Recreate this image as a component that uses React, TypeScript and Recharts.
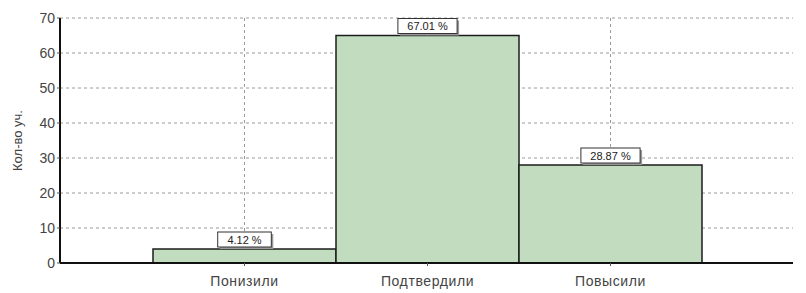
import { Bar, BarChart, CartesianGrid, LabelList, ReferenceLine, XAxis, YAxis } from "recharts";

const categories = ["Понизили", "Подтвердили", "Повысили"];
const counts = [4, 65, 28];
const percentLabels = ["4.12 %", "67.01 %", "28.87 %"];
const yTicks = [0, 10, 20, 30, 40, 50, 60, 70];
const yMax = 70;

const data = categories.map((name, i) => ({ name, value: counts[i], pct: percentLabels[i] }));

const font = "Liberation Sans, Arial";

function PctLabel(props: any) {
  const { x, y, width, index } = props;
  const text = percentLabels[index];
  const w = 20 + text.length * 5.6;
  const h = 15;
  const cx = x + width / 2;
  const top = y - h - 2;
  return (
    <g>
      <rect x={cx - w / 2 + 2} y={top + 2} width={w} height={h} fill="#9a9a9a" />
      <rect x={cx - w / 2} y={top} width={w} height={h} fill="#fff" stroke="#333" strokeWidth={1} />
      <text x={cx} y={top + h / 2 + 4} textAnchor="middle" fontSize={11} fill="#222" fontFamily={font}>
        {text}
      </text>
    </g>
  );
}

export default function App() {
  return (
    <div style={{ position: "absolute", left: 0, top: 0, background: "#fff" }}>
      <BarChart width={806} height={293} data={data} margin={{ top: 18, right: 13, bottom: 0, left: 0 }} barCategoryGap={0}>
        <CartesianGrid stroke="#9a9a9a" strokeDasharray="3 3" vertical={false} />
        {/* vertical grid only above the bars, so it stays behind them */}
        {categories.map((c, i) => (
          <ReferenceLine
            key={c}
            segment={[{ x: c, y: counts[i] }, { x: c, y: yMax }]}
            stroke="#9a9a9a"
            strokeDasharray="3 3"
          />
        ))}
        <XAxis
          dataKey="name"
          padding={{ left: 93, right: 91 }}
          height={30}
          tickSize={3}
          axisLine={{ stroke: "#111", strokeWidth: 2 }}
          tickLine={{ stroke: "#555" }}
          tick={{ fontSize: 14, fill: "#444", fontFamily: font, letterSpacing: 0.6 }}
          tickMargin={10}
        />
        <YAxis
          domain={[0, yMax]}
          ticks={yTicks}
          width={60}
          tickSize={3}
          interval={0}
          axisLine={{ stroke: "#111", strokeWidth: 2 }}
          tickLine={{ stroke: "#555" }}
          tick={{ fontSize: 14, fill: "#444", fontFamily: font }}
          label={{ value: "Кол-во уч.", angle: -90, position: "insideLeft", offset: 17, style: { fontSize: 13, fill: "#444", fontFamily: font, textAnchor: "middle" } }}
        />
        <Bar dataKey="value" fill="#c2dcbf" stroke="#1c1c1c" strokeWidth={1.5} isAnimationActive={false}>
          <LabelList dataKey="pct" content={<PctLabel />} />
        </Bar>
      </BarChart>
    </div>
  );
}
